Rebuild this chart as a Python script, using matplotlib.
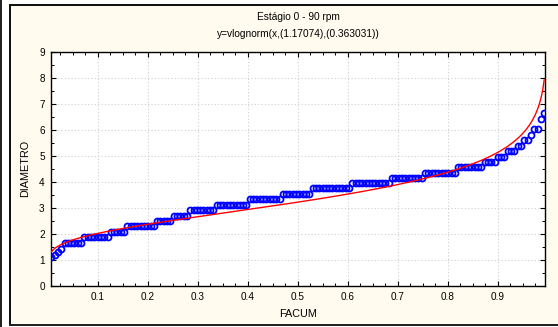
import numpy as np
import matplotlib
matplotlib.use("Agg")
import matplotlib.pyplot as plt
from matplotlib.patches import Rectangle
from matplotlib.ticker import MultipleLocator
from statistics import NormalDist

# Measured diameters, grouped by value (value, number of particles)
diam_levels = [1.12, 1.20, 1.32, 1.42, 1.65, 1.87, 2.09, 2.31, 2.50, 2.70,
               2.92, 3.12, 3.33, 3.54, 3.76, 3.95, 4.14, 4.33, 4.56, 4.78,
               4.97, 5.19, 5.38, 5.61, 5.80, 6.03, 6.41, 6.67]
diam_counts = [1, 1, 1, 1, 6, 8, 5, 9, 5, 5,
               8, 10, 10, 9, 12, 12, 10, 10, 8, 4,
               3, 3, 2, 2, 1, 2, 1, 1]

# Fitted lognormal parameters
fit_mu = 1.17074
fit_sigma = 0.363031

title_line1 = "Estágio 0 - 90 rpm"
title_line2 = "y=vlognorm(x,(1.17074),(0.363031))"
x_label = "FACUM"
y_label = "DIAMETRO"
x_ticks = [0.1, 0.2, 0.3, 0.4, 0.5, 0.6, 0.7, 0.8, 0.9]
y_ticks = [0, 1, 2, 3, 4, 5, 6, 7, 8, 9]

diametro = np.repeat(diam_levels, diam_counts)
n = len(diametro)
facum = np.arange(1, n + 1) / (n + 1)

nd = NormalDist()
f_line = np.linspace(facum[0], facum[-1], 400)
d_line = np.exp(fit_mu + fit_sigma * np.array([nd.inv_cdf(p) for p in f_line]))

W, H = 558, 327
plt.rcParams['font.family'] = ['Liberation Sans', 'DejaVu Sans']
fig = plt.figure(figsize=(W / 100, H / 100), dpi=100, facecolor='#fffbee')


def frame_rect(x, y, w, h, color):
    fig.add_artist(Rectangle((x / W, 1 - (y + h) / H), w / W, h / H,
                             transform=fig.transFigure, facecolor=color,
                             edgecolor='none', zorder=-5))


# window frame around the graph
frame_rect(0, 0, 2, H, '#222222')
frame_rect(2, 0, 7, H, 'white')
frame_rect(9, 0, W - 9, 4, 'white')
frame_rect(9, 4, W - 9, 2, '#111111')
frame_rect(9, 4, 2, H - 4, '#111111')
frame_rect(9, 324, W - 9, 2, '#222222')
frame_rect(9, 326, W - 9, 1, 'white')

ax = fig.add_axes([51 / W, 1 - 286 / H, (545 - 51) / W, (286 - 52) / H])
ax.set_facecolor('white')

ax.plot(facum, diametro, linestyle='none', marker='o', markersize=4.3,
        markerfacecolor='none', markeredgecolor='#0000ff',
        markeredgewidth=1.3, zorder=3)
ax.plot(f_line, d_line, color='#ff0000', linewidth=1.0, zorder=4)

ax.set_xlim(0.006, 0.995)
ax.set_ylim(0, 9)
ax.set_xticks(x_ticks)
ax.set_xticklabels([f"{t:.1f}" for t in x_ticks])
ax.set_yticks(y_ticks)
ax.xaxis.set_minor_locator(MultipleLocator(0.025))
ax.yaxis.set_minor_locator(MultipleLocator(0.5))

ax.tick_params(which='both', direction='in', top=True, right=True,
               labelsize=7.2, colors='black')
ax.tick_params(which='major', length=3.5, width=0.8)
ax.tick_params(which='minor', length=2, width=0.7)
ax.tick_params(axis='y', pad=4.5)
ax.tick_params(axis='x', pad=4)

ax.grid(True, which='major', color='#cfcfcf', linestyle=(0, (1, 2)),
        linewidth=0.8)
ax.set_axisbelow(True)
for s in ax.spines.values():
    s.set_linewidth(1.0)
    s.set_color('black')

fig.text(298 / W, 1 - 17 / H, title_line1, ha='center', va='center',
         fontsize=7.3)
fig.text(298 / W, 1 - 34 / H, title_line2, ha='center', va='center',
         fontsize=7.3)
fig.text(298 / W, 1 - 314 / H, x_label, ha='center', va='center',
         fontsize=7.8)
fig.text(25 / W, 1 - 168 / H, y_label, ha='center', va='center',
         rotation=90, fontsize=7.8)

fig.savefig('out.png', dpi=100, facecolor=fig.get_facecolor())
